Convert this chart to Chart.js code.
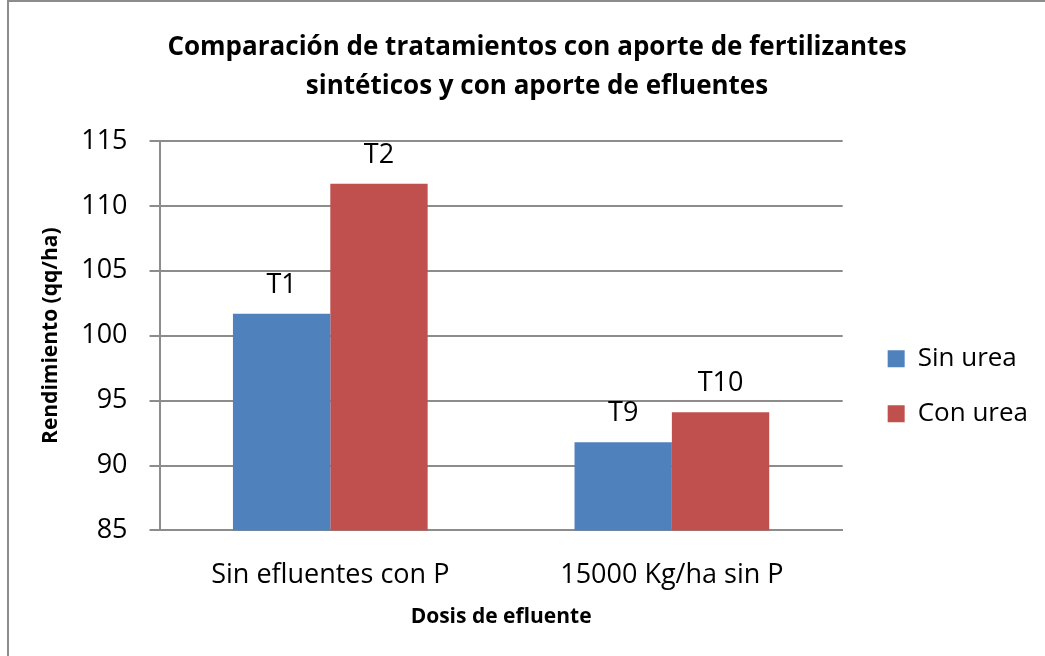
<!DOCTYPE html>
<html>
<head>
<meta charset="utf-8">
<script src="https://cdn.jsdelivr.net/npm/chart.js@4.4.1/dist/chart.umd.min.js"></script>
<style>
  body { margin: 0; background: #fff; }
  #wrap { position: relative; width: 1045px; height: 656px; }
  #frame { position: absolute; left: 7px; top: 0; width: 1038px; height: 656px;
           border-left: 2px solid #8c8c8c; border-top: 2px solid #8c8c8c; box-sizing: border-box; }
  canvas { position: absolute; left: 0; top: 0; }
</style>
</head>
<body>
<div id="wrap">
  <div id="frame"></div>
  <canvas id="densityCanvas" width="1045" height="656"></canvas>
</div>
<script>
var categories = ['Sin efluentes con P', '15000 Kg/ha sin P'];
var sinUrea = [101.7, 91.8];
var conUrea = [111.7, 94.1];
var sinLabels = ['T1', 'T9'];
var conLabels = ['T2', 'T10'];

var fontFam = '"Open Sans", sans-serif';

// draws the T1/T2/... text above each bar
var barTags = {
  id: 'barTags',
  afterDatasetsDraw: function(chart) {
    var ctx = chart.ctx;
    ctx.save();
    ctx.font = '27px ' + fontFam;
    ctx.fillStyle = '#000';
    ctx.textAlign = 'center';
    ctx.textBaseline = 'alphabetic';
    chart.data.datasets.forEach(function(ds, i) {
      var meta = chart.getDatasetMeta(i);
      meta.data.forEach(function(bar, j) {
        ctx.fillText(ds.tags[j], bar.x, bar.y - 21);
      });
    });
    ctx.restore();
  }
};

var densityCanvas = document.getElementById('densityCanvas');
var barChart = new Chart(densityCanvas, {
  type: 'bar',
  data: {
    labels: categories,
    datasets: [
      { label: 'Sin urea', data: sinUrea, tags: sinLabels, backgroundColor: '#4f81bd' },
      { label: 'Con urea', data: conUrea, tags: conLabels, backgroundColor: '#c0504d' }
    ]
  },
  options: {
    responsive: false,
    animation: false,
    layout: { padding: { left: 36, right: 7, top: 20, bottom: 22 } },
    datasets: { bar: { categoryPercentage: 0.57, barPercentage: 1.0 } },
    plugins: {
      title: {
        display: true,
        text: ['Comparación de tratamientos con aporte de fertilizantes', 'sintéticos y con aporte de efluentes'],
        color: '#000',
        font: { family: fontFam, size: 26, weight: 'bold', lineHeight: 1.5 },
        padding: { top: 8, bottom: 35 }
      },
      legend: {
        position: 'right',
        maxWidth: 300,
        title: { display: true, text: ' ', font: { size: 12 }, padding: 52 },
        labels: {
          color: '#000',
          font: { family: fontFam, size: 26 },
          boxWidth: 17,
          boxHeight: 17,
          padding: 29
        }
      },
      tooltip: { enabled: false }
    },
    scales: {
      x: {
        grid: { display: false, drawTicks: false },
        border: { color: '#8c8c8c', width: 2 },
        ticks: { color: '#000', font: { family: fontFam, size: 27 }, padding: 29, maxRotation: 0, minRotation: 0 },
        title: { display: true, text: 'Dosis de efluente', color: '#000',
                 font: { family: fontFam, size: 21, weight: 'bold' }, padding: { top: -16, bottom: 4 } }
      },
      y: {
        min: 85,
        max: 115,
        ticks: { stepSize: 5, color: '#000', font: { family: fontFam, size: 27 }, padding: 22 },
        grid: { color: '#8c8c8c', lineWidth: 2, tickLength: 10 },
        border: { color: '#8c8c8c', width: 2 },
        title: { display: true, text: 'Rendimiento (qq/ha)', color: '#000',
                 font: { family: fontFam, size: 21, weight: 'bold' }, padding: { top: 2, bottom: -4 } }
      },
      // empty spacer between plot and legend
      gap: {
        type: 'linear',
        position: 'right',
        grid: { display: false, drawTicks: false },
        border: { display: false },
        ticks: { display: false },
        afterFit: function(s) { s.width = 16; }
      }
    }
  },
  plugins: [barTags]
});
</script>
</body>
</html>
